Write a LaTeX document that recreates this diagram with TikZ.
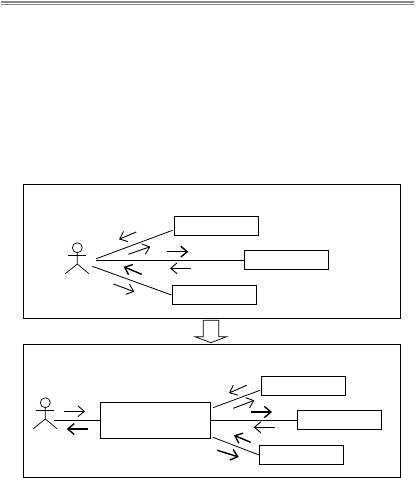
\documentclass[tikz,border=0pt]{standalone}
\usepackage{xcolor}
\usetikzlibrary{arrows.meta,positioning}
\definecolor{rulegray}{HTML}{8A8A8A}
\tikzset{
  framebox/.style={draw,line width=.9pt,minimum width=377pt,inner sep=0pt},
  objbox/.style={draw,line width=.9pt,minimum width=84pt,minimum height=19pt,inner sep=0pt},
  link/.style={line width=.8pt},
  msg/.style={line width=.9pt,-{Straight Barb[length=6.5pt,width=11pt]}},
  msgbold/.style={line width=1.4pt,-{Straight Barb[length=6.5pt,width=11pt]}},
  limb/.style={line width=.7pt}
}
\begin{document}
\begin{tikzpicture}[x=1pt,y=-1pt]
\useasboundingbox (0,0) rectangle (415,478);
\draw[rulegray,line width=1.3pt] (1,2)--(414,2);
\draw[rulegray,line width=1.3pt] (1,4.7)--(414,4.7);
% before
\node[framebox,minimum height=133.5pt] (before) at (212,251.2){};
\node[objbox] (accts) at (216,226){};
\node[objbox] (sales) at (286,260.3){};
\node[objbox] (stock) at (214,294.8){};
% after
\node[framebox,minimum height=132.7pt] (after) at (212,410.6){};
\node[objbox,minimum width=110pt,minimum height=35.4pt] (front) at (155.3,420.3){};
\node[objbox] (accts2) at (303.5,386){};
\node[objbox] (sales2) at (339.5,420.3){};
\node[objbox] (stock2) at (301.5,454.8){};
% stick figures
\foreach \name/\px/\py in {userA/77.3/247.7,userB/45.3/402.7}{
  \coordinate (\name) at (\px,\py);
  \draw[limb] (\name) circle[radius=5];
  \draw[limb] ([yshift=-5pt]\name)--++(0,11.3)--++(-12,9.7);
  \draw[limb] ([yshift=-16.3pt]\name)--++(11.7,9.7);
  \draw[limb] ([xshift=-9pt,yshift=-7.6pt]\name)--++(17.5,0);
}
% links
\coordinate (userAtop) at (96.3,258.7);
\coordinate (userAmid) at (96.3,260.3);
\coordinate (userAlow) at (92.3,266.3);
\coordinate (userBmid) at (54.3,420.3);
\coordinate (frontup) at (213,407.7);
\coordinate (frontdn) at (213,437.3);
\draw[link] (userAtop)--([xshift=-1pt,yshift=-4.3pt]accts.west);
\draw[link] (userAmid)--(sales.west);
\draw[link] (userAlow)--([yshift=-.2pt]stock.west);
\draw[link] (userBmid)--(front.west);
\draw[link] (frontup)--([xshift=-1pt,yshift=-4.3pt]accts2.west);
\draw[link] (front.east)--(sales2.west);
\draw[link] (frontdn)--([yshift=-.2pt]stock2.west);
% message arrows
\foreach \n/\sx/\sy/\ex/\ey in {1/136.3/232/119/239.3,2/128.3/254.3/150.3/246.7,3/191/268.3/170/268.3,4/113.3/284/134.3/291.7,
  5/64.3/411.3/85/411.3,6/246.7/385.3/229/393,7/233.3/408.3/254.3/400.3,8/274.7/427.3/253.7/427.3}{
  \coordinate (msgs\n) at (\sx,\sy);
  \coordinate (msge\n) at (\ex,\ey);
  \draw[msg] (msgs\n)--(msge\n);
}
\foreach \n/\sx/\sy/\ex/\ey in {1/167.3/251.7/188.3/251.7,2/141.7/274.3/123.7/266.7,3/87.7/429/66.7/429,4/250.7/442.3/234/435.3,
  5/251.3/412/272/412,6/217.3/450.3/238.7/457}{
  \coordinate (bolds\n) at (\sx,\sy);
  \coordinate (bolde\n) at (\ex,\ey);
  \draw[msgbold] (bolds\n)--(bolde\n);
}
% hollow arrow
\draw[line width=.7pt] (203.3,320.3)--(218.7,320.3)--(218.7,336.7)--(226.7,336.7)--(210.9,342.7)--(194.9,336.7)--(203.3,336.7)--cycle;
\end{tikzpicture}
\end{document}
